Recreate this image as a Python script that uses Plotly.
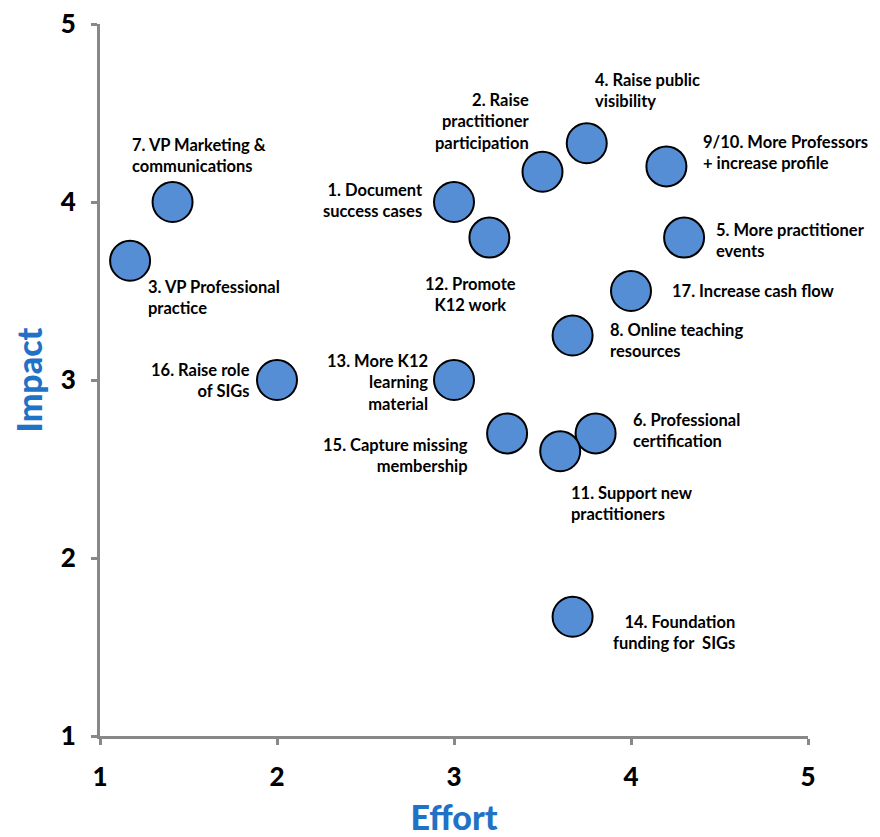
import plotly.graph_objects as go

labels = [
    "7. VP Marketing &<br>communications",
    "3. VP Professional<br>practice",
    "16. Raise role<br>of SIGs",
    "1. Document<br>success cases",
    "12. Promote<br>K12 work",
    "2. Raise<br>practitioner<br>participation",
    "4. Raise public<br>visibility",
    "9/10. More Professors<br>+ increase profile",
    "5. More practitioner<br>events",
    "17. Increase cash flow",
    "8. Online teaching<br>resources",
    "13. More K12<br>learning<br>material",
    "15. Capture missing<br>membership",
    "6. Professional<br>certification",
    "11. Support new<br>practitioners",
    "14. Foundation<br>funding for  SIGs",
]
effort = [1.41, 1.17, 2.0, 3.0, 3.2, 3.5, 3.75, 4.2, 4.3, 4.0, 3.67, 3.0, 3.3, 3.8, 3.6, 3.67]
impact = [4.0, 3.67, 3.0, 4.0, 3.8, 4.17, 4.33, 4.2, 3.8, 3.5, 3.25, 3.0, 2.7, 2.7, 2.6, 1.67]

x_ticks = [1, 2, 3, 4, 5]
y_ticks = [1, 2, 3, 4, 5]

# label placement (anchor, text align, pixel offsets)
label_style = [
    ("left", "left", -43, 47),
    ("left", "left", 16, -37),
    ("right", "right", -25, 0),
    ("right", "right", -29, 2),
    ("center", "center", -19, -57),
    ("right", "right", -11, 50),
    ("left", "left", 6, 53),
    ("left", "left", 35, 14),
    ("left", "left", 30, -3),
    ("left", "left", 39, 0),
    ("left", "left", 35, -5),
    ("right", "right", -24, -2),
    ("right", "right", -37, -22),
    ("left", "left", 35, 3),
    ("left", "left", 9, -52),
    ("right", "right", 164, -16),
]

fig = go.Figure()
fig.add_trace(go.Scatter(
    x=effort, y=impact, mode="markers",
    marker=dict(size=40, color="#558ED5", line=dict(color="black", width=2)),
    cliponaxis=False, hoverinfo="skip", showlegend=False,
))

for lab, xv, yv, (xa, al, dx, dy) in zip(labels, effort, impact, label_style):
    fig.add_annotation(
        x=xv, y=yv, text=lab, showarrow=False,
        xanchor=xa, yanchor="middle", align=al,
        xshift=dx, yshift=dy,
        font=dict(family="Lato", size=16.5, color="black", weight="bold"),
    )

axis_common = dict(
    showgrid=False, zeroline=False, automargin=False,
    showline=True, linecolor="#888888", linewidth=3,
    ticks="outside", ticklen=6, tickwidth=3, tickcolor="#888888",
    ticklabelstandoff=10, ticklabeloverflow="allow",
    tickfont=dict(family="Lato", size=26, color="black", weight=900),
)

fig.update_layout(
    width=872, height=829,
    margin=dict(l=92, r=72, t=16, b=101),
    plot_bgcolor="white", paper_bgcolor="white",
    xaxis=dict(range=[1, 5], tickvals=x_ticks, ticktext=[str(v) for v in x_ticks],
               title=dict(text="Effort", standoff=24,
                          font=dict(family="Lato", size=34, color="#1F72C6", weight=900)),
               **axis_common),
    yaxis=dict(range=[1, 5], tickvals=y_ticks, ticktext=[str(v) for v in y_ticks],
               title=dict(text="Impact", standoff=18,
                          font=dict(family="Lato", size=34, color="#1F72C6", weight=900)),
               **axis_common),
)

fig.write_html("out.html")
